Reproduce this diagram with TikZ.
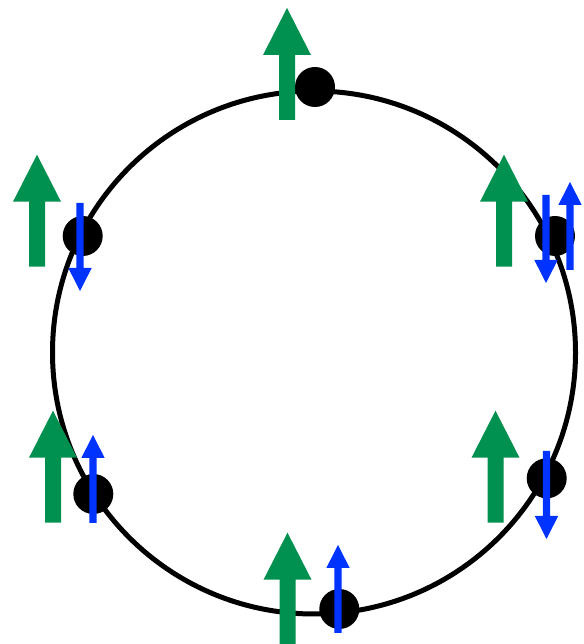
\documentclass[tikz,border=0pt]{standalone}
\usepackage{tikz}
\definecolor{spingreen}{HTML}{00904F}
\definecolor{spinblue}{HTML}{0033FF}

\tikzset{
  site/.style={circle,fill=black,inner sep=0pt,minimum size=40pt},
  bigspin/.pic={\fill[spingreen] (-8,0) -- (-8,65) -- (-24,65) -- (0,112) -- (24,65) -- (8,65) -- (8,0) -- cycle;},
  smallspin/.pic={\fill[spinblue] (-3.6,0) -- (-3.6,65) -- (-11.7,65) -- (0,88) -- (11.7,65) -- (3.6,65) -- (3.6,0) -- cycle;}
}

\begin{document}
\begin{tikzpicture}[x=1pt,y=1pt]
  \useasboundingbox (0,0) rectangle (583,644);
  \draw[line width=5pt] (314,291.5) circle (261.5);
  % sites on the ring
  \node[site] (s1) at (315,557) {};
  \node[site] (s2) at (82.7,408) {};
  \node[site] (s3) at (555,408) {};
  \node[site] (s4) at (93.3,150) {};
  \node[site] (s5) at (546.7,165.7) {};
  \node[site] (s6) at (339.3,35) {};
  % large spins
  \pic at (287,524) {bigspin};
  \pic at (37,377.3) {bigspin};
  \pic at (504,377.3) {bigspin};
  \pic at (53,121.3) {bigspin};
  \pic at (495.5,121.3) {bigspin};
  \pic at (287.5,-0.7) {bigspin};
  % small spins
  \pic[rotate=180] at (80,441) {smallspin};
  \pic[rotate=180] at (546,449) {smallspin};
  \pic at (570,374) {smallspin};
  \pic at (93,121) {smallspin};
  \pic[rotate=180] at (546.5,193) {smallspin};
  \pic at (338,11) {smallspin};
\end{tikzpicture}
\end{document}
